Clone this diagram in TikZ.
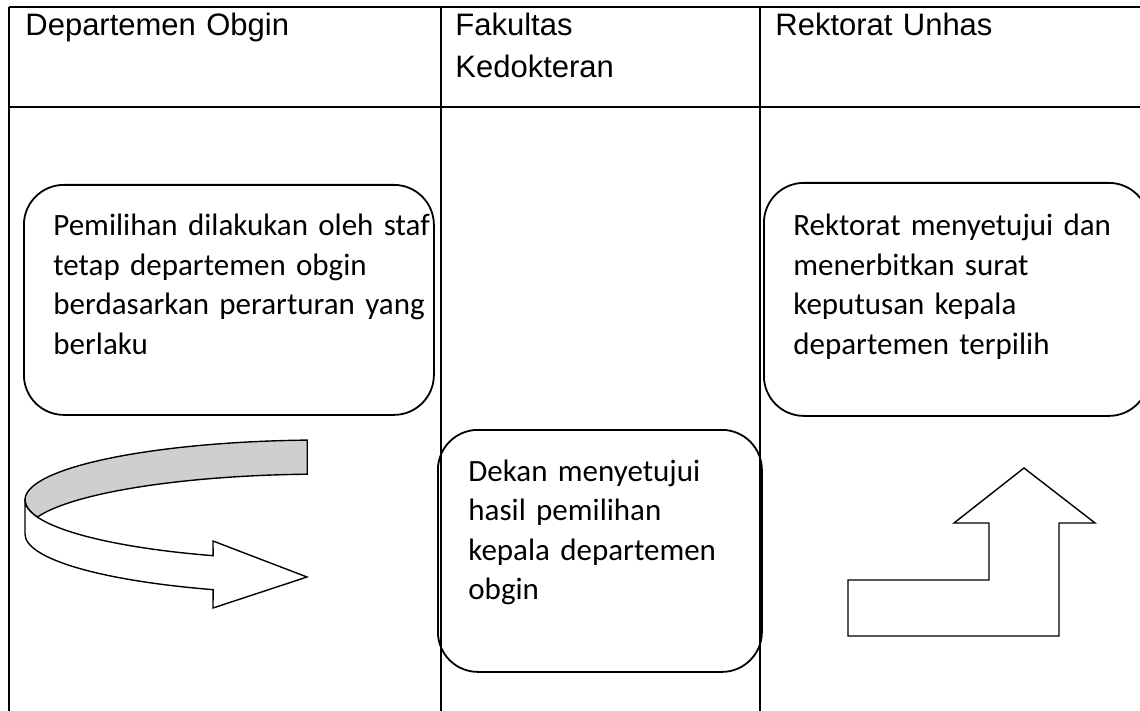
\documentclass[tikz,border=0pt]{standalone}
\usepackage{fontspec}
\setmainfont{Liberation Sans}
\newfontfamily\calibri{Carlito}
\usepackage{tikz}
\definecolor{bandgray}{HTML}{CFCFCF}

\begin{document}
\begin{tikzpicture}[
  x=0.5pt,y=-0.5pt,
  lane/.style={line width=1.3pt},
  head/.style={font=\fontsize{15.5}{21}\selectfont,anchor=base west,align=left,text width=150pt,inner sep=0pt},
  proc/.style={draw,line width=0.9pt,rounded corners=20pt,anchor=north west,inner sep=0pt},
  proctext/.style={font=\calibri\fontsize{15.5}{19.75}\selectfont,anchor=base west,align=left,text width=190pt,inner sep=0pt},
  outline/.style={draw,line width=0.7pt,line join=miter}
]
\useasboundingbox (0,0) rectangle (1140,711);
% lanes
\draw[lane] (9,7) -- (1140,7);
\draw[lane] (9,107) -- (1140,107);
\draw[lane] (9,7) -- (9,711);
\draw[lane] (441,7) -- (441,711);
\draw[lane] (760,7) -- (760,711);
\node[head] (hdept) at (25,36) {Departemen Obgin};
\node[head] (hfak)  at (455,36) {Fakultas\\Kedokteran};
\node[head] (hrek)  at (775,36) {Rektorat Unhas};
% steps
\node[proc,minimum width=205pt,minimum height=115pt] (pilih) at (23,184) {};
\node[proctext] (pilihtxt) at ([shift={(30,52)}]pilih.north west)
  {Pemilihan dilakukan oleh staf\\tetap departemen obgin\\berdasarkan perarturan yang\\berlaku};
\node[proc,minimum width=162pt,minimum height=121pt] (dekan) at (437,429) {};
\node[proctext] (dekantxt) at ([shift={(31,52)}]dekan.north west)
  {Dekan menyetujui\\hasil pemilihan\\kepala departemen\\obgin};
\node[proc,minimum width=192.5pt,minimum height=116.5pt] (rektor) at (763,182) {};
\node[proctext] (rektortxt) at ([shift={(30,54)}]rektor.north west)
  {Rektorat menyetujui dan\\menerbitkan surat\\keputusan kepala\\departemen terpilih};
% curved ribbon arrow
\filldraw[outline,fill=bandgray] (307.2,440.1)
  arc[start angle=266.6,end angle=180,x radius=300,y radius=60]
  arc[start angle=180,end angle=163.5,x radius=300,y radius=60]
  arc[start angle=196.5,end angle=266.6,x radius=300,y radius=60] -- cycle;
\filldraw[outline,fill=white] (25,500) -- (25,534)
  arc[start angle=180,end angle=111.9,x radius=300,y radius=60]
  -- (213,608) -- (307,577) -- (213,541) -- (213.1,555.7)
  arc[start angle=111.9,end angle=180,x radius=300,y radius=60] -- cycle;
% bent up arrow
\draw[outline] (848,580) -- (989,580) -- (989,523) -- (954,523) -- (1024,468)
  -- (1095,523) -- (1059,523) -- (1059,636) -- (848,636) -- cycle;
\end{tikzpicture}
\end{document}
